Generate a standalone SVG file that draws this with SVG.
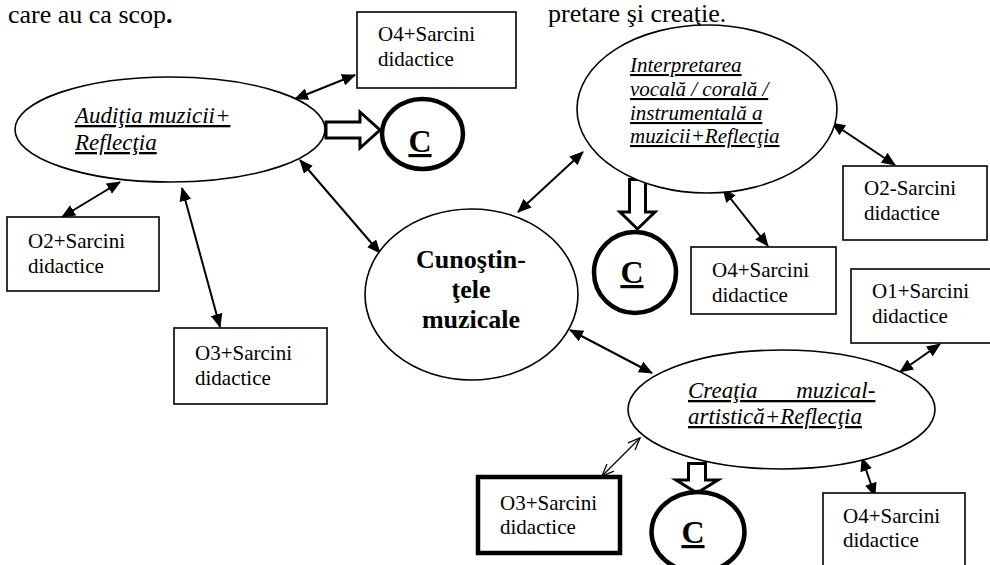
<svg xmlns="http://www.w3.org/2000/svg" width="990" height="565" viewBox="0 0 990 565">
<defs>
<style>
text{fill:#000;font-family:"Liberation Serif","Times New Roman",serif}
.box{fill:#fff;stroke:#000;stroke-width:1.6}
.thick{stroke-width:4.5}
.ell{fill:#fff;stroke:#000;stroke-width:1.6}
.circ{fill:#fff;stroke:#000;stroke-width:4.5}
.bt{font-size:21px}
.it{font-style:italic;text-decoration:underline}
.i21{font-size:21px}
.i23{font-size:23px}
.cb{font-size:26px;font-weight:bold;text-anchor:middle}
.cc{font-size:32px;font-weight:bold;text-anchor:middle;text-decoration:underline}
.hollow{fill:#fff;stroke:#000;stroke-width:3;stroke-linejoin:miter}
.con{stroke:#000;stroke-width:2;fill:none;marker-start:url(#ah);marker-end:url(#ah)}
.con2{stroke:#000;stroke-width:1.2;fill:none;marker-start:url(#oh);marker-end:url(#oh)}
.top{font-size:26px}
</style>
<marker id="ah" viewBox="0 0 14 12" refX="13" refY="6" markerWidth="14" markerHeight="12" markerUnits="userSpaceOnUse" orient="auto-start-reverse">
<path d="M0,0 L14,6 L0,12 z" fill="#000"/>
</marker>
<marker id="oh" viewBox="0 0 14 12" refX="13" refY="6" markerWidth="14" markerHeight="12" markerUnits="userSpaceOnUse" orient="auto-start-reverse">
<path d="M1,1 L13,6 L1,11" fill="none" stroke="#000" stroke-width="1.3"/>
</marker>
</defs>
<rect width="990" height="565" fill="#fff"/>

<text class="top" x="8" y="23">care au ca scop<tspan font-weight="bold">.</tspan></text>
<text class="top" x="548" y="22">pretare şi creaţie.</text>

<g id="connectors">
<line class="con" x1="355" y1="75" x2="295" y2="99"/>
<line class="con" x1="300" y1="160" x2="380" y2="253"/>
<line class="con" x1="120" y1="182" x2="62" y2="217"/>
<line class="con" x1="182" y1="188" x2="220" y2="327"/>
<line class="con" x1="583" y1="152" x2="518" y2="212"/>
<line class="con" x1="832" y1="123" x2="895" y2="165"/>
<line class="con" x1="723" y1="189" x2="768" y2="246"/>
<line class="con" x1="570" y1="330" x2="652" y2="373"/>
<line class="con" x1="900" y1="372" x2="940" y2="344"/>
<line class="con" x1="862" y1="458" x2="875" y2="496"/>
<line class="con2" x1="640" y1="438" x2="602" y2="476"/>
<polygon class="hollow" points="326,122 360,122 360,112 380,130 360,148 360,138 326,138"/>
<polygon class="hollow" points="629.5,179.5 645.5,179.5 645.5,212 655,212 637.5,229 620,212 629.5,212"/>
<polygon class="hollow" points="688.5,463.5 705.5,463.5 705.5,480 718,480 697,493 676,480 688.5,480"/>
</g>

<g id="auditia">
<ellipse class="ell" cx="170" cy="129.5" rx="155" ry="52.5"/>
<text class="it i23" x="75" y="123">Audiţia muzicii+</text>
<text class="it i23" x="75" y="150">Reflecţia</text>
</g>

<g id="c1">
<ellipse class="circ" cx="422.5" cy="134" rx="40.5" ry="35"/>
<text class="cc" x="420" y="152">C</text>
</g>

<g id="o4-top">
<rect class="box" x="357" y="12" width="159" height="76"/>
<text class="bt" x="378" y="41">O4+Sarcini</text>
<text class="bt" x="378" y="66">didactice</text>
</g>

<g id="o2-left">
<rect class="box" x="7" y="217" width="152" height="74"/>
<text class="bt" x="28" y="248">O2+Sarcini</text>
<text class="bt" x="28" y="273">didactice</text>
</g>

<g id="o3-left">
<rect class="box" x="174" y="328" width="153" height="76"/>
<text class="bt" x="195" y="360">O3+Sarcini</text>
<text class="bt" x="195" y="385">didactice</text>
</g>

<g id="cunostintele">
<ellipse class="ell" cx="471.5" cy="294.5" rx="106.5" ry="85.5"/>
<text class="cb" x="471" y="268">Cunoştin-</text>
<text class="cb" x="471" y="298">ţele</text>
<text class="cb" x="471" y="328">muzicale</text>
</g>

<g id="interpretarea">
<ellipse class="ell" cx="707" cy="109" rx="130" ry="84"/>
<text class="it i21" x="630" y="72">Interpretarea</text>
<text class="it i21" x="630" y="96">vocală / corală /</text>
<text class="it i21" x="630" y="120">instrumentală a</text>
<text class="it i21" x="630" y="143">muzicii+Reflecţia</text>
</g>

<g id="c2">
<ellipse class="circ" cx="635" cy="272.5" rx="41" ry="40.5"/>
<text class="cc" x="632" y="283">C</text>
</g>

<g id="o2-right">
<rect class="box" x="843" y="166" width="144" height="74"/>
<text class="bt" x="864" y="195">O2-Sarcini</text>
<text class="bt" x="864" y="220">didactice</text>
</g>

<g id="o4-mid">
<rect class="box" x="691" y="247" width="145" height="67"/>
<text class="bt" x="712" y="277">O4+Sarcini</text>
<text class="bt" x="712" y="302">didactice</text>
</g>

<g id="o1">
<rect class="box" x="851" y="269" width="150" height="74"/>
<text class="bt" x="872" y="298">O1+Sarcini</text>
<text class="bt" x="872" y="323">didactice</text>
</g>

<g id="creatia">
<ellipse class="ell" cx="781.5" cy="409.5" rx="153.5" ry="59.5"/>
<text class="it i23" x="688" y="398" word-spacing="33">Creaţia muzical-</text>
<text class="it i23" x="688" y="424">artistică+Reflecţia</text>
</g>

<g id="o3-thick">
<rect class="box thick" x="478" y="477" width="142" height="76"/>
<text class="bt" x="500" y="510">O3+Sarcini</text>
<text class="bt" x="500" y="534">didactice</text>
</g>

<g id="c3">
<ellipse class="circ" cx="698" cy="532" rx="46.5" ry="40"/>
<text class="cc" x="693" y="543">C</text>
</g>

<g id="o4-bottom">
<rect class="box" x="823" y="493" width="142" height="90"/>
<text class="bt" x="843" y="523">O4+Sarcini</text>
<text class="bt" x="843" y="547">didactice</text>
</g>
</svg>
